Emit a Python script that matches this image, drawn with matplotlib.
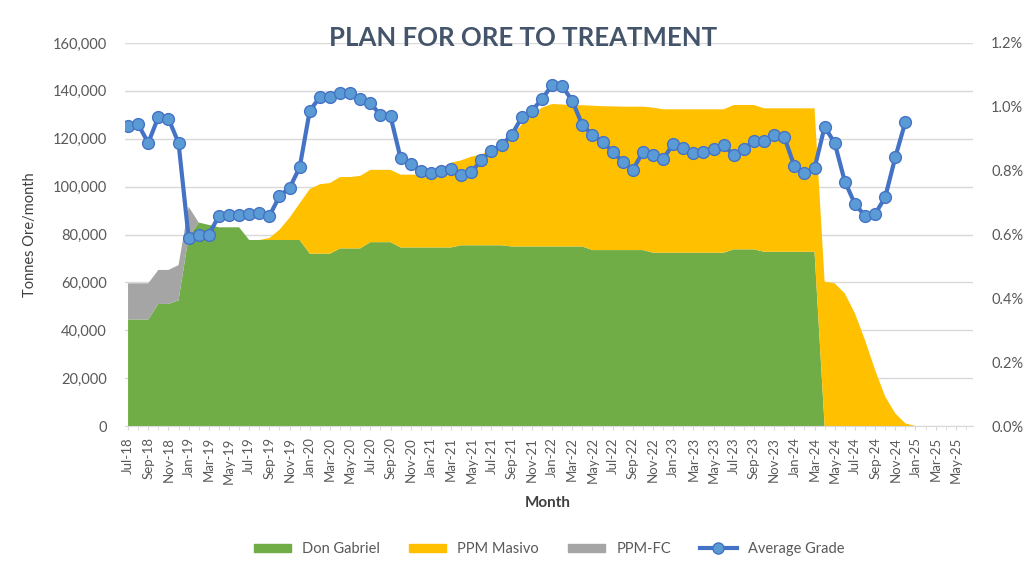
import numpy as np
import pandas as pd
import matplotlib
matplotlib.use('Agg')
import matplotlib.pyplot as plt
from matplotlib.ticker import FuncFormatter
from matplotlib.lines import Line2D

plt.rcParams['font.family'] = ['Lato', 'DejaVu Sans']

months = pd.date_range('2018-07-01', periods=84, freq='MS').strftime('%b-%y').tolist()

# tonnes per month, one value per month from Jul-18
don_gabriel = [44500, 44500, 44500, 51000, 51000, 52500, 79000, 85000, 84000, 83000,
               83000, 83000, 77700, 77700, 77700, 77700, 77700, 77700, 72000, 72000,
               72000, 74200, 74200, 74200, 76800, 76800, 76800, 74600, 74600, 74600,
               74600, 74600, 74600, 75500, 75500, 75500, 75500, 75500, 75000, 75000,
               75000, 75000, 75000, 75000, 75000, 75000, 73500, 73500, 73500, 73500,
               73500, 73500, 72400, 72400, 72400, 72400, 72400, 72400, 72400, 72400,
               73800, 73800, 73800, 72800, 72800, 72800, 72800, 72800, 72800, 0,
               0, 0, 0, 0, 0, 0, 0, 0, 0, 0, 0, 0, 0, 0]
ppm_masivo = [0, 0, 0, 0, 0, 0, 0, 0, 0, 0,
              0, 0, 0, 0, 800, 4300, 9300, 15300, 27000, 29000,
              29500, 29800, 29800, 30300, 30200, 30200, 30200, 30400, 30400, 30400,
              30900, 32900, 35400, 35500, 37000, 38000, 40000, 42500, 46000, 51000,
              55000, 58000, 59500, 59300, 59000, 59000, 60300, 60100, 60000, 59900,
              59900, 59900, 60600, 59900, 59900, 59900, 59900, 59900, 59900, 59900,
              60300, 60300, 60300, 59900, 59900, 59900, 59900, 59900, 59900, 60300,
              59600, 55400, 47100, 35900, 23400, 12300, 5300, 1100, 0, 0, 0, 0, 0, 0]
ppm_fc = [15100, 15100, 15100, 14200, 14200, 14700, 12600] + [0] * 77

# average grade, % (Jul-18 .. Dec-24)
avg_grade = [0.94, 0.945, 0.887, 0.968, 0.963, 0.887, 0.59, 0.60, 0.60, 0.658,
             0.66, 0.66, 0.665, 0.667, 0.658, 0.72, 0.746, 0.81, 0.988, 1.03,
             1.03, 1.044, 1.042, 1.024, 1.011, 0.975, 0.97, 0.839, 0.821, 0.80,
             0.792, 0.80, 0.804, 0.786, 0.795, 0.833, 0.862, 0.88, 0.912, 0.967,
             0.988, 1.024, 1.068, 1.065, 1.019, 0.943, 0.912, 0.891, 0.859, 0.828,
             0.802, 0.859, 0.849, 0.836, 0.884, 0.87, 0.855, 0.857, 0.867, 0.88,
             0.849, 0.867, 0.894, 0.894, 0.912, 0.905, 0.815, 0.792, 0.807, 0.938,
             0.886, 0.766, 0.696, 0.658, 0.664, 0.717, 0.842, 0.953]

x = np.arange(len(months))
colors = ['#70AD47', '#FFC000', '#A5A5A5']
txt = '#595959'

fig = plt.figure(figsize=(10.29, 5.73), dpi=100)
ax = fig.add_axes([0.1215, 0.2565, 0.8241, 0.6685])
ax.stackplot(x, don_gabriel, ppm_masivo, ppm_fc, colors=colors, linewidth=0)
ax.set_xlim(-0.3, 83.7)
ax.set_ylim(0, 160000)
ax.set_yticks(range(0, 160001, 20000))
ax.yaxis.set_major_formatter(FuncFormatter(lambda v, p: '{:,.0f}'.format(v)))
ax.grid(axis='y', color='#d9d9d9', lw=1)
ax.set_axisbelow(True)
for s in ['top', 'right', 'left']:
    ax.spines[s].set_visible(False)
ax.spines['bottom'].set_color('#d9d9d9')
ax.set_xticks(x[::2])
ax.set_xticklabels(months[::2], rotation=90)
ax.set_xticks(x, minor=True)
ax.tick_params(axis='x', which='both', length=3, color='#d9d9d9', labelsize=9.5,
               labelcolor=txt, pad=5)
ax.tick_params(axis='y', length=0, labelsize=10.5, labelcolor=txt, pad=13)

ax2 = ax.twinx()
ax2.plot(np.arange(len(avg_grade)), avg_grade, color='#4472C4', lw=3, marker='o',
         ms=8.5, mfc='#5B9BD5', mec='#4472C4', mew=1)
ax2.set_ylim(0, 1.2)
ax2.set_yticks(np.arange(0, 1.21, 0.2))
ax2.yaxis.set_major_formatter(FuncFormatter(lambda v, p: '%.1f%%' % v))
ax2.tick_params(axis='y', length=0, labelsize=10.5, labelcolor=txt, pad=13)
for s in ax2.spines.values():
    s.set_visible(False)

fig.text(0.508, 1 - 38 / 573, 'PLAN FOR ORE TO TREATMENT', ha='center', va='center',
         fontsize=18.5, fontweight='bold', color='#44546A')
fig.text(30 / 1029, 1 - 235 / 573, 'Tonnes Ore/month', rotation=90, ha='center',
         va='center', fontsize=10.5, color='#404040')
fig.text(548 / 1029, 1 - 503 / 573, 'Month', ha='center', va='center', fontsize=11,
         fontweight='bold', color='#404040')

handles = [plt.Rectangle((0, 0), 1, 1, color=c) for c in colors]
handles.append(Line2D([], [], color='#4472C4', lw=3, marker='o', ms=8,
                      mfc='#5B9BD5', mec='#4472C4'))
leg = fig.legend(handles, ['Don Gabriel', 'PPM Masivo', 'PPM-FC', 'Average Grade'],
                 loc='center', bbox_to_anchor=(0.534, 1 - 549 / 573), ncol=4,
                 frameon=False, fontsize=10.5, handlelength=2.5, handleheight=0.5,
                 columnspacing=2.0)
for t in leg.get_texts():
    t.set_color(txt)

fig.savefig('out.png', dpi=100)
